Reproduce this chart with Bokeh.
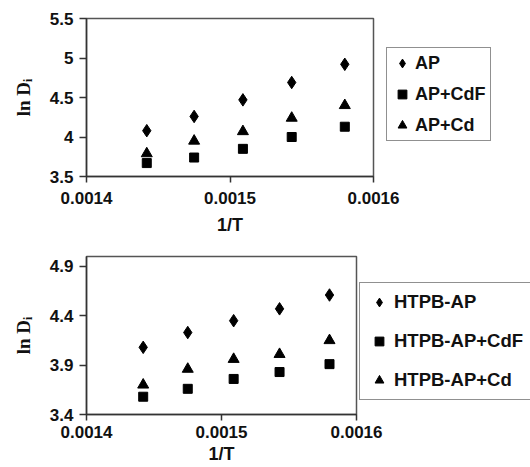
import numpy as np
from bokeh.plotting import figure
from bokeh.layouts import column
from bokeh.models import Legend, LegendItem, FixedTicker, Range1d
from bokeh.embed import file_html
from bokeh.resources import INLINE

# ---- data ----
inv_T = [0.001442, 0.001475, 0.001509, 0.001543, 0.001580]

ap = [4.08, 4.26, 4.47, 4.69, 4.92]
ap_cdf = [3.67, 3.74, 3.85, 4.00, 4.13]
ap_cd = [3.79, 3.95, 4.07, 4.24, 4.40]

htpb_ap = [4.08, 4.23, 4.35, 4.47, 4.61]
htpb_ap_cdf = [3.58, 3.66, 3.76, 3.83, 3.91]
htpb_ap_cd = [3.70, 3.86, 3.96, 4.01, 4.15]

x_ticks = [0.0014, 0.0015, 0.0016]
x_tick_labels = ["0.0014", "0.0015", "0.0016"]
y_ticks_top = [3.5, 4.0, 4.5, 5.0, 5.5]
y_tick_labels_top = ["3.5", "4", "4.5", "5", "5.5"]
y_ticks_bottom = [3.4, 3.9, 4.4, 4.9]
y_tick_labels_bottom = ["3.4", "3.9", "4.4", "4.9"]

labels_top = ["AP", "AP+CdF", "AP+Cd"]
labels_bottom = ["HTPB-AP", "HTPB-AP+CdF", "HTPB-AP+Cd"]

SANS = "Liberation Sans"
SERIF = "Liberation Serif"


def make_panel(series, labels, yticks, ylabels, yrange, fw, fh, borders,
               xl_standoff, xa_standoff, leg_loc, leg_padding, leg_spacing,
               leg_standoff, leg_font):
    bl, br, bt, bb = borders
    p = figure(frame_width=fw, frame_height=fh, output_backend="svg", toolbar_location=None,
               x_range=Range1d(0.0014, 0.0016), y_range=Range1d(*yrange),
               min_border_left=bl, min_border_right=br, min_border_top=bt,
               min_border_bottom=bb)
    p.xgrid.visible = False
    p.ygrid.visible = False
    p.outline_line_color = "#555555"
    p.outline_line_width = 1.5
    p.background_fill_color = "white"
    p.border_fill_color = "white"

    p.xaxis.ticker = FixedTicker(ticks=x_ticks)
    p.xaxis.major_label_overrides = {t: l for t, l in zip(x_ticks, x_tick_labels)}
    p.yaxis.ticker = FixedTicker(ticks=yticks)
    p.yaxis.major_label_overrides = {t: l for t, l in zip(yticks, ylabels)}

    for ax in (p.xaxis[0], p.yaxis[0]):
        ax.axis_line_color = "#333333"
        ax.axis_line_width = 1.5
        ax.major_tick_line_color = "#333333"
        ax.major_tick_line_width = 1.5
        ax.major_tick_in = 0
        ax.minor_tick_line_color = None
        ax.major_label_text_font = SANS
        ax.major_label_text_font_style = "bold"
        ax.major_label_text_font_size = "17px"
        ax.major_label_text_color = "#111111"
        ax.axis_label_text_color = "#111111"

    p.xaxis.major_tick_out = 6
    p.xaxis.major_label_standoff = xl_standoff
    p.yaxis.major_tick_out = 7
    p.yaxis.major_label_standoff = 6

    p.xaxis.axis_label = "1/T"
    p.xaxis.axis_label_text_font = SANS
    p.xaxis.axis_label_text_font_style = "bold"
    p.xaxis.axis_label_text_font_size = "18px"
    p.xaxis.axis_label_standoff = xa_standoff

    p.yaxis.axis_label = "ln D\u1d62"
    p.yaxis.axis_label_text_font = SERIF
    p.yaxis.axis_label_text_font_style = "bold"
    p.yaxis.axis_label_text_font_size = "19px"
    p.yaxis.axis_label_standoff = 13

    r1 = p.scatter(inv_T, series[0], marker="diamond", size=12.5, color="black")
    r2 = p.scatter(inv_T, series[1], marker="square", size=9, color="black")
    r3 = p.scatter(inv_T, series[2], marker="triangle", size=11, color="black")

    legend = Legend(items=[LegendItem(label=labels[0], renderers=[r1]),
                           LegendItem(label=labels[1], renderers=[r2]),
                           LegendItem(label=labels[2], renderers=[r3])],
                    location=leg_loc, margin=0,
                    border_line_color="#222222", border_line_width=1,
                    padding=leg_padding, spacing=leg_spacing,
                    label_height=20, glyph_height=22, glyph_width=22,
                    label_standoff=leg_standoff,
                    label_text_font=SANS, label_text_font_style="bold",
                    label_text_font_size=leg_font, label_text_color="#111111")
    p.add_layout(legend, "right")
    return p


top = make_panel([ap, ap_cdf, ap_cd], labels_top, y_ticks_top, y_tick_labels_top,
                 (3.5, 5.5), 287, 158, (85, 158, 18, 59), 9, 8, (13, 35), 4, 9, 2, "18px")
bottom = make_panel([htpb_ap, htpb_ap_cdf, htpb_ap_cd], labels_bottom, y_ticks_bottom,
                    y_tick_labels_bottom, (3.4, 5.0), 270, 158, (86, 174, 19, 55), 5, 3,
                    (3, 14), 8, 17, 4, "18.5px")

layout = column(top, bottom)
open("out.html", "w").write(file_html(layout, INLINE))
